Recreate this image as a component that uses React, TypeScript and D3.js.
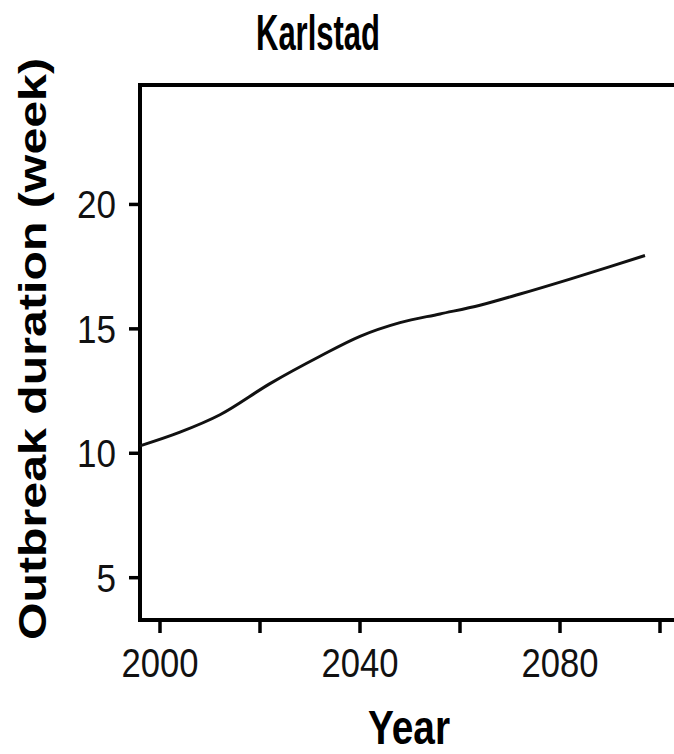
import React, { useEffect, useRef } from 'react';
import * as d3 from 'd3';

const years = [1996, 2004, 2012, 2022, 2032, 2040, 2048, 2056, 2064, 2072, 2082, 2090, 2097];
const duration = [10.3, 10.85, 11.55, 12.8, 13.9, 14.7, 15.25, 15.6, 15.95, 16.4, 17.0, 17.5, 17.95];
const xTicks = [2000, 2020, 2040, 2060, 2080, 2100];
const xTickLabels = ['2000', '', '2040', '', '2080', ''];
const yTicks = [5, 10, 15, 20];

const W = 674;
const H = 754;
const FONT = "'Liberation Sans', Arial, sans-serif";

const App = () => {
  const ref = useRef<SVGSVGElement | null>(null);

  useEffect(() => {
    const svg = d3.select(ref.current);
    svg.selectAll('*').remove();

    const x = d3.scaleLinear().domain([1996, 2104]).range([140, 680]);
    const y = d3.scaleLinear().domain([3.3, 24.8]).range([620, 85]);

    // frame (right side runs off the picture)
    svg.append('path')
      .attr('d', `M${x(2104)},${y(24.8)}H${x(1996)}V${y(3.3)}H${x(2104)}`)
      .attr('fill', 'none')
      .attr('stroke', '#000')
      .attr('stroke-width', 4);

    // x ticks
    svg.selectAll('.xt')
      .data(xTicks)
      .enter()
      .append('line')
      .attr('x1', (d) => x(d))
      .attr('x2', (d) => x(d))
      .attr('y1', y(3.3))
      .attr('y2', y(3.3) + 13)
      .attr('stroke', '#000')
      .attr('stroke-width', 3.5);

    svg.selectAll('.xl')
      .data(xTicks.filter((d, i) => xTickLabels[i] !== ''))
      .enter()
      .append('text')
      .attr('x', (d) => x(d))
      .attr('y', 677)
      .attr('text-anchor', 'middle')
      .attr('font-family', FONT)
      .attr('font-size', 40)
      .attr('textLength', 77)
      .attr('lengthAdjust', 'spacingAndGlyphs')
      .attr('fill', '#111')
      .text((d) => xTickLabels[xTicks.indexOf(d)]);

    // y ticks
    svg.selectAll('.yt')
      .data(yTicks)
      .enter()
      .append('line')
      .attr('x1', x(1996) - 11)
      .attr('x2', x(1996))
      .attr('y1', (d) => y(d))
      .attr('y2', (d) => y(d))
      .attr('stroke', '#000')
      .attr('stroke-width', 3.5);

    svg.selectAll('.yl')
      .data(yTicks)
      .enter()
      .append('text')
      .attr('x', 116)
      .attr('y', (d) => y(d) + 14)
      .attr('text-anchor', 'end')
      .attr('font-family', FONT)
      .attr('font-size', 39)
      .attr('textLength', (d) => String(d).length * 19.5)
      .attr('lengthAdjust', 'spacingAndGlyphs')
      .attr('fill', '#111')
      .text((d) => d);

    // the line
    const line = d3.line<number>()
      .x((d, i) => x(years[i]))
      .y((d) => y(d))
      .curve(d3.curveMonotoneX);

    svg.append('path')
      .datum(duration)
      .attr('d', line)
      .attr('fill', 'none')
      .attr('stroke', '#111')
      .attr('stroke-width', 3);

    // titles
    svg.append('text')
      .attr('x', 318)
      .attr('y', 50)
      .attr('text-anchor', 'middle')
      .attr('font-family', FONT)
      .attr('font-weight', 'bold')
      .attr('font-size', 50)
      .attr('textLength', 124)
      .attr('lengthAdjust', 'spacingAndGlyphs')
      .text('Karlstad');

    svg.append('text')
      .attr('x', 409)
      .attr('y', 744)
      .attr('text-anchor', 'middle')
      .attr('font-family', FONT)
      .attr('font-weight', 'bold')
      .attr('font-size', 48)
      .attr('textLength', 82)
      .attr('lengthAdjust', 'spacingAndGlyphs')
      .text('Year');

    svg.append('text')
      .attr('transform', 'translate(46,349) rotate(-90)')
      .attr('text-anchor', 'middle')
      .attr('font-family', FONT)
      .attr('font-weight', 'bold')
      .attr('font-size', 39)
      .attr('textLength', 582)
      .attr('lengthAdjust', 'spacingAndGlyphs')
      .text('Outbreak duration (week)');
  }, []);

  return (
    <svg
      ref={ref}
      width={W}
      height={H}
      style={{ position: 'absolute', left: 0, top: 0, background: '#fff' }}
    />
  );
};

export default App;
